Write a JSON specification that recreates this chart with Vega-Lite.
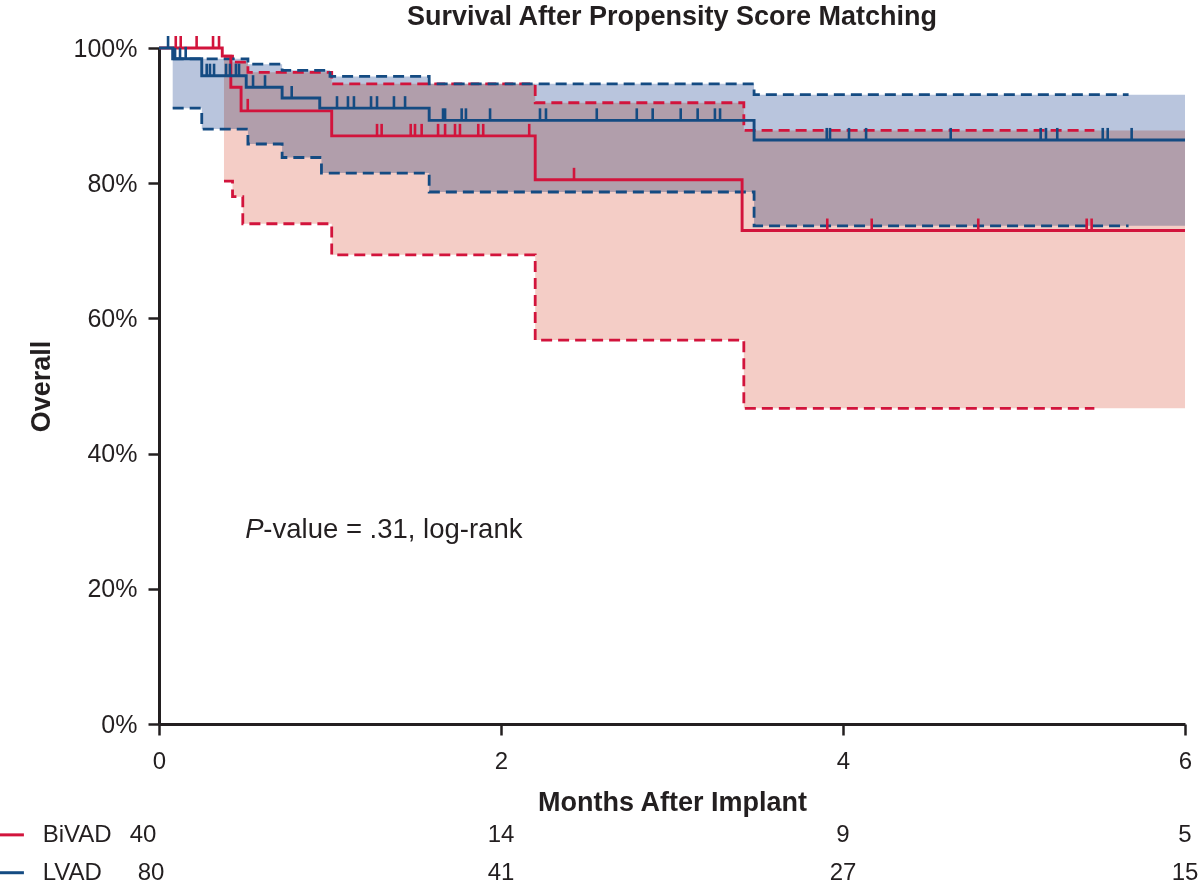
{
  "$schema": "https://vega.github.io/schema/vega-lite/v6.json",
  "width": 1026,
  "height": 676,
  "autosize": {"type": "none"},
  "padding": {"left": 159, "top": 48, "right": 15, "bottom": 164},
  "background": "white",
  "data": {"values": [{}]},
  "title": {"text": "Survival After Propensity Score Matching", "font": "Liberation Sans", "fontSize": 27, "fontWeight": "bold", "color": "#231f20", "anchor": "middle", "offset": 4},
  "config": {
    "view": {"stroke": null},
    "font": "Liberation Sans",
    "axis": {"domainColor": "#231f20", "domainWidth": 3, "tickColor": "#231f20", "tickWidth": 2.5, "tickSize": 11, "labelColor": "#231f20", "labelFont": "Liberation Sans", "titleColor": "#231f20", "titleFont": "Liberation Sans", "titleFontWeight": "bold", "titleFontSize": 27, "grid": false, "labelFlush": false}
  },
  "datasets": {
    "km": [
      {"group": "BiVAD", "month": 0, "surv": 100},
      {"group": "BiVAD", "month": 0.37, "surv": 98.8},
      {"group": "BiVAD", "month": 0.42, "surv": 94.2},
      {"group": "BiVAD", "month": 0.48, "surv": 90.7},
      {"group": "BiVAD", "month": 1.01, "surv": 87.0},
      {"group": "BiVAD", "month": 2.2, "surv": 80.5},
      {"group": "BiVAD", "month": 3.41, "surv": 73.0},
      {"group": "BiVAD", "month": 6, "surv": 73.0},
      {"group": "LVAD", "month": 0, "surv": 100},
      {"group": "LVAD", "month": 0.08, "surv": 98.4},
      {"group": "LVAD", "month": 0.25, "surv": 95.9},
      {"group": "LVAD", "month": 0.51, "surv": 94.2},
      {"group": "LVAD", "month": 0.72, "surv": 92.6},
      {"group": "LVAD", "month": 0.94, "surv": 91.1},
      {"group": "LVAD", "month": 1.58, "surv": 89.3},
      {"group": "LVAD", "month": 3.48, "surv": 86.4},
      {"group": "LVAD", "month": 6, "surv": 86.4}
    ],
    "band": [
      {"group": "BiVAD", "month": 0.38, "lo": 80.3, "hi": 98.8},
      {"group": "BiVAD", "month": 0.43, "lo": 78.0, "hi": 97.9},
      {"group": "BiVAD", "month": 0.49, "lo": 74.0, "hi": 97.9},
      {"group": "BiVAD", "month": 0.52, "lo": 74.0, "hi": 96.4},
      {"group": "BiVAD", "month": 1.01, "lo": 69.4, "hi": 94.7},
      {"group": "BiVAD", "month": 2.2, "lo": 56.8, "hi": 91.9},
      {"group": "BiVAD", "month": 3.42, "lo": 46.7, "hi": 87.8},
      {"group": "BiVAD", "month": 6, "lo": 46.7, "hi": 87.8},
      {"group": "LVAD", "month": 0.08, "lo": 91.1, "hi": 98.4},
      {"group": "LVAD", "month": 0.25, "lo": 88.0, "hi": 98.4},
      {"group": "LVAD", "month": 0.52, "lo": 85.8, "hi": 97.6},
      {"group": "LVAD", "month": 0.72, "lo": 83.8, "hi": 96.7},
      {"group": "LVAD", "month": 0.95, "lo": 81.5, "hi": 96.7},
      {"group": "LVAD", "month": 1.0, "lo": 81.5, "hi": 95.8},
      {"group": "LVAD", "month": 1.58, "lo": 78.7, "hi": 94.7},
      {"group": "LVAD", "month": 3.48, "lo": 73.7, "hi": 93.1},
      {"group": "LVAD", "month": 6, "lo": 73.7, "hi": 93.1}
    ],
    "ciline": [
      {"group": "BiVAD", "month": 0.38, "lo": 80.3, "hi": 98.8},
      {"group": "BiVAD", "month": 0.43, "lo": 78.0, "hi": 97.9},
      {"group": "BiVAD", "month": 0.49, "lo": 74.0, "hi": 97.9},
      {"group": "BiVAD", "month": 0.52, "lo": 74.0, "hi": 96.4},
      {"group": "BiVAD", "month": 1.01, "lo": 69.4, "hi": 94.7},
      {"group": "BiVAD", "month": 2.2, "lo": 56.8, "hi": 91.9},
      {"group": "BiVAD", "month": 3.42, "lo": 46.7, "hi": 87.8},
      {"group": "BiVAD", "month": 5.47, "lo": 46.7, "hi": 87.8},
      {"group": "LVAD", "month": 0.08, "lo": 91.1, "hi": 98.4},
      {"group": "LVAD", "month": 0.25, "lo": 88.0, "hi": 98.4},
      {"group": "LVAD", "month": 0.52, "lo": 85.8, "hi": 97.6},
      {"group": "LVAD", "month": 0.72, "lo": 83.8, "hi": 96.7},
      {"group": "LVAD", "month": 0.95, "lo": 81.5, "hi": 96.7},
      {"group": "LVAD", "month": 1.0, "lo": 81.5, "hi": 95.8},
      {"group": "LVAD", "month": 1.58, "lo": 78.7, "hi": 94.7},
      {"group": "LVAD", "month": 3.48, "lo": 73.7, "hi": 93.1},
      {"group": "LVAD", "month": 5.67, "lo": 73.7, "hi": 93.1}
    ],
    "censor": [
      {"group": "LVAD", "month": 0.053, "surv": 100},
      {"group": "LVAD", "month": 0.094, "surv": 98.4},
      {"group": "LVAD", "month": 0.123, "surv": 98.4},
      {"group": "LVAD", "month": 0.156, "surv": 98.4},
      {"group": "LVAD", "month": 0.279, "surv": 95.9},
      {"group": "LVAD", "month": 0.298, "surv": 95.9},
      {"group": "LVAD", "month": 0.322, "surv": 95.9},
      {"group": "LVAD", "month": 0.392, "surv": 95.9},
      {"group": "LVAD", "month": 0.415, "surv": 95.9},
      {"group": "LVAD", "month": 0.45, "surv": 95.9},
      {"group": "LVAD", "month": 0.468, "surv": 95.9},
      {"group": "LVAD", "month": 0.55, "surv": 94.2},
      {"group": "LVAD", "month": 0.62, "surv": 94.2},
      {"group": "LVAD", "month": 0.776, "surv": 92.6},
      {"group": "LVAD", "month": 1.041, "surv": 91.1},
      {"group": "LVAD", "month": 1.105, "surv": 91.1},
      {"group": "LVAD", "month": 1.14, "surv": 91.1},
      {"group": "LVAD", "month": 1.24, "surv": 91.1},
      {"group": "LVAD", "month": 1.275, "surv": 91.1},
      {"group": "LVAD", "month": 1.374, "surv": 91.1},
      {"group": "LVAD", "month": 1.439, "surv": 91.1},
      {"group": "LVAD", "month": 1.661, "surv": 89.3},
      {"group": "LVAD", "month": 1.673, "surv": 89.3},
      {"group": "LVAD", "month": 1.77, "surv": 89.3},
      {"group": "LVAD", "month": 1.795, "surv": 89.3},
      {"group": "LVAD", "month": 1.936, "surv": 89.3},
      {"group": "LVAD", "month": 2.228, "surv": 89.3},
      {"group": "LVAD", "month": 2.263, "surv": 89.3},
      {"group": "LVAD", "month": 2.56, "surv": 89.3},
      {"group": "LVAD", "month": 2.794, "surv": 89.3},
      {"group": "LVAD", "month": 2.887, "surv": 89.3},
      {"group": "LVAD", "month": 3.051, "surv": 89.3},
      {"group": "LVAD", "month": 3.15, "surv": 89.3},
      {"group": "LVAD", "month": 3.251, "surv": 89.3},
      {"group": "LVAD", "month": 3.281, "surv": 89.3},
      {"group": "LVAD", "month": 3.905, "surv": 86.4},
      {"group": "LVAD", "month": 3.924, "surv": 86.4},
      {"group": "LVAD", "month": 4.035, "surv": 86.4},
      {"group": "LVAD", "month": 4.135, "surv": 86.4},
      {"group": "LVAD", "month": 4.63, "surv": 86.4},
      {"group": "LVAD", "month": 5.156, "surv": 86.4},
      {"group": "LVAD", "month": 5.187, "surv": 86.4},
      {"group": "LVAD", "month": 5.253, "surv": 86.4},
      {"group": "LVAD", "month": 5.519, "surv": 86.4},
      {"group": "LVAD", "month": 5.548, "surv": 86.4},
      {"group": "LVAD", "month": 5.688, "surv": 86.4},
      {"group": "BiVAD", "month": 0.098, "surv": 100},
      {"group": "BiVAD", "month": 0.127, "surv": 100},
      {"group": "BiVAD", "month": 0.22, "surv": 100},
      {"group": "BiVAD", "month": 0.316, "surv": 100},
      {"group": "BiVAD", "month": 0.351, "surv": 100},
      {"group": "BiVAD", "month": 0.519, "surv": 90.7},
      {"group": "BiVAD", "month": 1.275, "surv": 87.0},
      {"group": "BiVAD", "month": 1.302, "surv": 87.0},
      {"group": "BiVAD", "month": 1.472, "surv": 87.0},
      {"group": "BiVAD", "month": 1.497, "surv": 87.0},
      {"group": "BiVAD", "month": 1.536, "surv": 87.0},
      {"group": "BiVAD", "month": 1.632, "surv": 87.0},
      {"group": "BiVAD", "month": 1.673, "surv": 87.0},
      {"group": "BiVAD", "month": 1.731, "surv": 87.0},
      {"group": "BiVAD", "month": 1.76, "surv": 87.0},
      {"group": "BiVAD", "month": 1.867, "surv": 87.0},
      {"group": "BiVAD", "month": 1.896, "surv": 87.0},
      {"group": "BiVAD", "month": 2.165, "surv": 87.0},
      {"group": "BiVAD", "month": 2.427, "surv": 80.5},
      {"group": "BiVAD", "month": 3.908, "surv": 73.0},
      {"group": "BiVAD", "month": 4.168, "surv": 73.0},
      {"group": "BiVAD", "month": 4.791, "surv": 73.0},
      {"group": "BiVAD", "month": 5.425, "surv": 73.0},
      {"group": "BiVAD", "month": 5.454, "surv": 73.0}
    ],
    "risk": [
      {"group": "BiVAD", "month": 0, "n": 40},
      {"group": "BiVAD", "month": 2, "n": 14},
      {"group": "BiVAD", "month": 4, "n": 9},
      {"group": "BiVAD", "month": 6, "n": 5},
      {"group": "LVAD", "month": 0, "n": 80},
      {"group": "LVAD", "month": 2, "n": 41},
      {"group": "LVAD", "month": 4, "n": 27},
      {"group": "LVAD", "month": 6, "n": 15}
    ]
  },
  "layer": [
    {
      "data": {"name": "band"},
      "transform": [{"filter": "datum.group === 'BiVAD'"}],
      "mark": {"type": "area", "interpolate": "step-after", "fill": "#f4cdc6", "opacity": 1},
      "encoding": {
        "x": {"field": "month", "type": "quantitative", "scale": {"domain": [0, 6], "nice": false, "zero": false},
              "axis": {"title": "Months After Implant", "values": [0, 2, 4, 6], "labelFontSize": 24, "labelPadding": 14, "titlePadding": 16, "format": "d"}},
        "y": {"field": "hi", "type": "quantitative", "scale": {"domain": [0, 100], "nice": false},
              "axis": {"title": "Overall", "values": [0, 20, 40, 60, 80, 100], "labelExpr": "datum.value + '%'", "labelFontSize": 25, "labelPadding": 11, "titlePadding": 18}},
        "y2": {"field": "lo"}
      }
    },
    {
      "data": {"name": "band"},
      "transform": [{"filter": "datum.group === 'LVAD'"}],
      "mark": {"type": "area", "interpolate": "step-after", "fill": "#b9c5dd", "opacity": 1, "blend": "multiply"},
      "encoding": {
        "x": {"field": "month", "type": "quantitative"},
        "y": {"field": "hi", "type": "quantitative"},
        "y2": {"field": "lo"}
      }
    },
    {
      "data": {"name": "ciline"},
      "mark": {"type": "line", "interpolate": "step-after", "strokeWidth": 2.8, "strokeDash": [11, 6]},
      "encoding": {
        "x": {"field": "month", "type": "quantitative"},
        "y": {"field": "hi", "type": "quantitative"},
        "color": {"field": "group", "type": "nominal", "scale": {"domain": ["BiVAD", "LVAD"], "range": ["#d2143c", "#144b82"]}, "legend": null}
      }
    },
    {
      "data": {"name": "ciline"},
      "mark": {"type": "line", "interpolate": "step-after", "strokeWidth": 2.8, "strokeDash": [11, 6]},
      "encoding": {
        "x": {"field": "month", "type": "quantitative"},
        "y": {"field": "lo", "type": "quantitative"},
        "color": {"field": "group", "type": "nominal", "legend": null}
      }
    },
    {
      "data": {"name": "km"},
      "mark": {"type": "line", "interpolate": "step-after", "strokeWidth": 2.9},
      "encoding": {
        "x": {"field": "month", "type": "quantitative"},
        "y": {"field": "surv", "type": "quantitative"},
        "color": {"field": "group", "type": "nominal", "legend": null}
      }
    },
    {
      "data": {"name": "censor"},
      "mark": {"type": "rule", "strokeWidth": 2.6, "y2Offset": -12},
      "encoding": {
        "x": {"field": "month", "type": "quantitative"},
        "y": {"field": "surv", "type": "quantitative"},
        "y2": {"field": "surv"},
        "color": {"field": "group", "type": "nominal", "legend": null}
      }
    },
    {
      "mark": {"type": "text", "text": "P", "fontStyle": "italic", "fontSize": 27.5, "align": "left", "baseline": "middle", "color": "#231f20"},
      "encoding": {"x": {"datum": 0.505, "type": "quantitative"}, "y": {"datum": 28.7, "type": "quantitative"}}
    },
    {
      "mark": {"type": "text", "text": "-value = .31, log-rank", "fontSize": 27.5, "align": "left", "baseline": "middle", "dx": 18, "color": "#231f20"},
      "encoding": {"x": {"datum": 0.505, "type": "quantitative"}, "y": {"datum": 28.7, "type": "quantitative"}}
    },
    {
      "data": {"name": "risk"},
      "transform": [{"filter": "datum.group === 'BiVAD' && datum.month > 0"}],
      "mark": {"type": "text", "fontSize": 24, "align": "center", "baseline": "middle", "color": "#231f20"},
      "encoding": {"x": {"field": "month", "type": "quantitative"}, "y": {"datum": -16.4, "type": "quantitative"}, "text": {"field": "n"}}
    },
    {
      "data": {"name": "risk"},
      "transform": [{"filter": "datum.group === 'LVAD' && datum.month > 0"}],
      "mark": {"type": "text", "fontSize": 24, "align": "center", "baseline": "middle", "color": "#231f20"},
      "encoding": {"x": {"field": "month", "type": "quantitative"}, "y": {"datum": -22.0, "type": "quantitative"}, "text": {"field": "n"}}
    },
    {
      "data": {"name": "risk"},
      "transform": [{"filter": "datum.group === 'BiVAD' && datum.month === 0"}],
      "mark": {"type": "text", "fontSize": 24, "align": "center", "baseline": "middle", "dx": -16, "color": "#231f20"},
      "encoding": {"x": {"field": "month", "type": "quantitative"}, "y": {"datum": -16.4, "type": "quantitative"}, "text": {"field": "n"}}
    },
    {
      "data": {"name": "risk"},
      "transform": [{"filter": "datum.group === 'LVAD' && datum.month === 0"}],
      "mark": {"type": "text", "fontSize": 24, "align": "center", "baseline": "middle", "dx": -8, "color": "#231f20"},
      "encoding": {"x": {"field": "month", "type": "quantitative"}, "y": {"datum": -22.0, "type": "quantitative"}, "text": {"field": "n"}}
    },
    {
      "mark": {"type": "text", "text": "BiVAD", "fontSize": 24, "align": "left", "baseline": "middle", "color": "#231f20"},
      "encoding": {"x": {"datum": -0.68, "type": "quantitative"}, "y": {"datum": -16.4, "type": "quantitative"}}
    },
    {
      "mark": {"type": "text", "text": "LVAD", "fontSize": 24, "align": "left", "baseline": "middle", "color": "#231f20"},
      "encoding": {"x": {"datum": -0.68, "type": "quantitative"}, "y": {"datum": -22.0, "type": "quantitative"}}
    },
    {
      "mark": {"type": "rule", "strokeWidth": 3, "color": "#d2143c"},
      "encoding": {"x": {"datum": -0.93, "type": "quantitative"}, "x2": {"datum": -0.79}, "y": {"datum": -16.4, "type": "quantitative"}}
    },
    {
      "mark": {"type": "rule", "strokeWidth": 3, "color": "#144b82"},
      "encoding": {"x": {"datum": -0.93, "type": "quantitative"}, "x2": {"datum": -0.79}, "y": {"datum": -22.0, "type": "quantitative"}}
    }
  ]
}
